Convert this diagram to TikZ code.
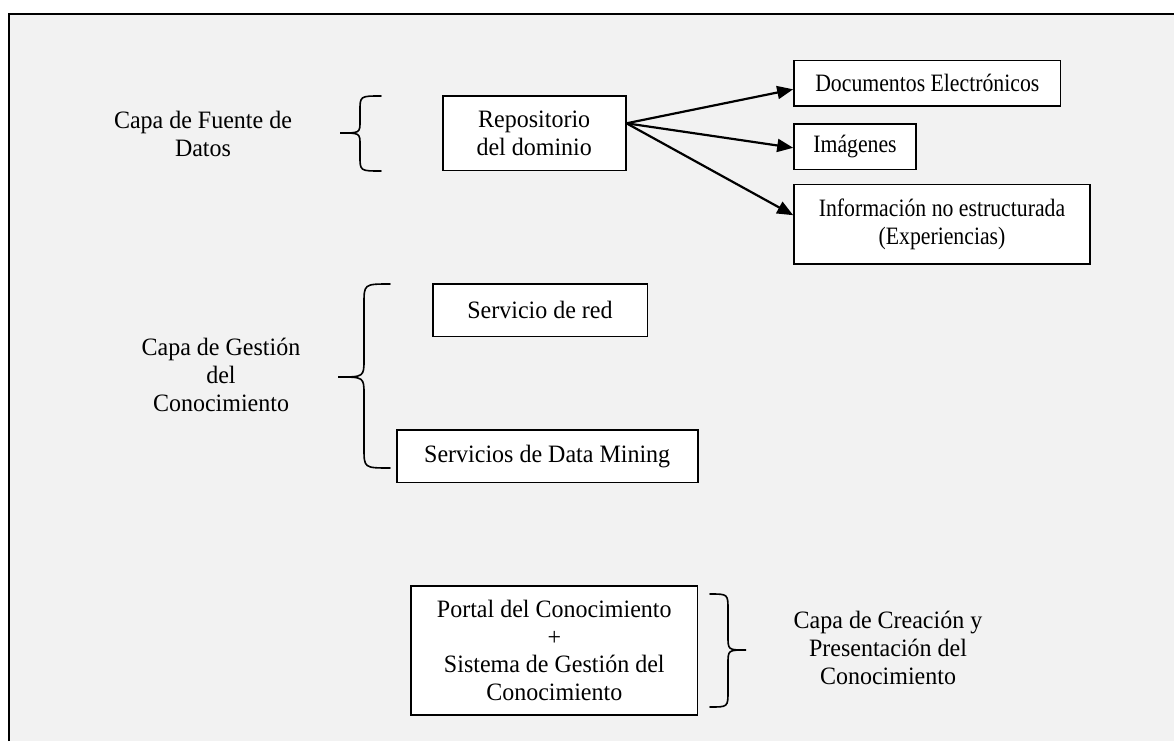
\documentclass[tikz,border=0pt]{standalone}
\usepackage{fontspec}
\setmainfont{Liberation Serif}[FakeStretch=0.96]
\newfontfamily\narrowserif{Liberation Serif}[FakeStretch=0.87]
\usetikzlibrary{arrows.meta}
\definecolor{paper}{HTML}{F2F2F2}
\begin{document}
\begin{tikzpicture}[x=1pt,y=-1pt,
  every node/.style={font=\fontsize{25pt}{27.6pt}\selectfont, align=center, inner sep=0pt},
  box/.style={draw=black, fill=white, line width=1.6pt},
  smalltext/.style={font=\narrowserif\fontsize{25pt}{28pt}\selectfont},
  label/.style={},
  arr/.style={line width=2.2pt, -{Triangle[length=16pt,width=13pt]}},
  bracestroke/.style={line width=1.6pt, line cap=round}]
  \useasboundingbox (0,0) rectangle (1174,741);
  % page background and frame
  \fill[white] (0,0) rectangle (1174,741);
  \fill[paper] (9,14) rectangle (1174,741);
  \draw[line width=2.4pt] (9,741) -- (9,14) -- (1174,14);

  % layer labels
  \node[label] (lfuente) at (203,134) {Capa de Fuente de\\Datos};
  \node[label] (lgestion) at (221,375) {Capa de Gestión\\del\\Conocimiento};
  \node[label] (lcreacion) at (888,648) {Capa de Creación y\\Presentación del\\Conocimiento};

  % boxes
  \node[box, minimum width=183pt, minimum height=74.7pt] (rep) at (534.2,133.3) {Repositorio\\del dominio};
  \node[box, smalltext, minimum width=266.7pt, minimum height=45.3pt] (doc) at (927.3,83.3) {Documentos Electrónicos};
  \node[box, smalltext, minimum width=122pt, minimum height=45pt] (img) at (855,146.8) {Imágenes};
  \node[box, smalltext, minimum width=296pt, minimum height=79.7pt] (inf) at (942,224.2) {Información no estructurada\\(Experiencias)};
  \node[box, minimum width=214.6pt, minimum height=52.7pt] (red) at (540,310.3) {Servicio de red};
  \node[box, minimum width=301pt, minimum height=52.7pt] (dm) at (547.2,456.3) {Servicios de Data Mining};
  \node[box, minimum width=286.7pt, minimum height=129pt] (portal) at (554.3,650.5) {Portal del Conocimiento\\+\\Sistema de Gestión del\\Conocimiento};

  % arrows from the repository
  \coordinate (fan) at ([yshift=10pt]rep.east);
  \draw[arr] (fan) -- ([yshift=-6pt]doc.west);
  \draw[arr] (fan) -- ([yshift=-1pt]img.west);
  \draw[arr] (fan) -- ([yshift=9pt]inf.west);

  % braces
  \draw[bracestroke] (381,96) .. controls (360,96) .. (360,111) -- (360,121)
    .. controls (360,133) .. (340,133) .. controls (360,133) .. (360,145)
    -- (360,156) .. controls (360,171) .. (381,171);
  \draw[bracestroke] (390,284) .. controls (364,284) .. (364,304) -- (364,359)
    .. controls (364,377) .. (338,377) .. controls (364,377) .. (364,395)
    -- (364,448) .. controls (364,468) .. (390,468);
  \draw[bracestroke] (710,594) .. controls (728,594) .. (728,610) -- (728,636)
    .. controls (728,650) .. (746,650) .. controls (728,650) .. (728,664)
    -- (728,691) .. controls (728,707) .. (710,707);
\end{tikzpicture}
\end{document}
